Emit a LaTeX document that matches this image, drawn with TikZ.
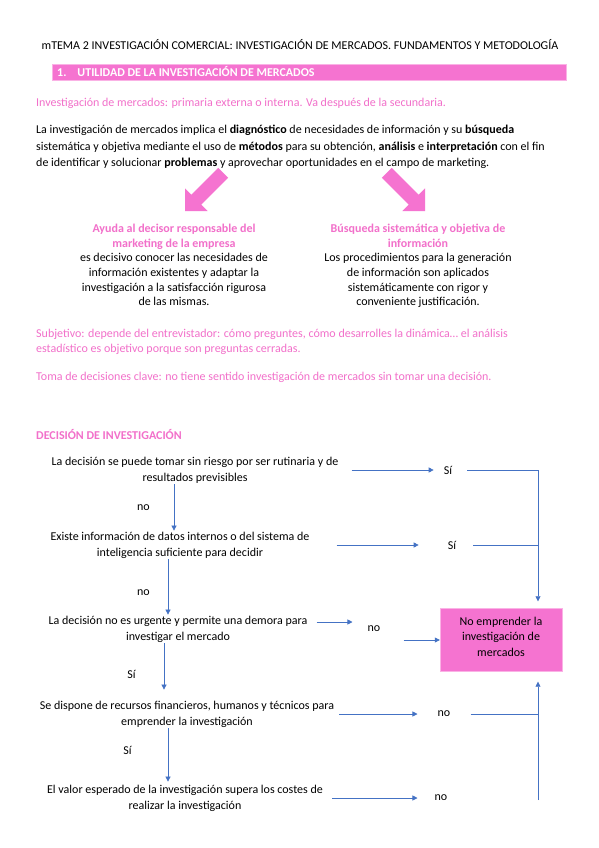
\documentclass[tikz,border=0pt]{standalone}
\usepackage{fontspec}
\setmainfont{Carlito}
\usetikzlibrary{arrows.meta,positioning}
\definecolor{rosa}{RGB}{245,115,208}
\definecolor{rosatxt}{RGB}{242,112,202}
\definecolor{azul}{RGB}{68,114,196}
\tikzset{
  flecha/.style={azul, line width=0.7pt, -{Triangle[length=5pt,width=5pt]}},
  linea/.style={azul, line width=0.7pt},
  preg/.style={align=center, font=\fontsize{12}{16}\selectfont, inner sep=1pt},
  resp/.style={text=black, font=\fontsize{12}{14}\selectfont, inner sep=0pt},
  txt/.style={anchor=west, inner sep=0pt, font=\fontsize{12}{14}\selectfont},
  col/.style={align=center, font=\fontsize{12}{14.6}\selectfont, inner sep=0pt},
}
\begin{document}
\begin{tikzpicture}[x=1pt,y=-1pt]
\useasboundingbox (0,0) rectangle (599,848);
\fill[white] (0,0) rectangle (599,848);

% cabecera
\node[txt, anchor=center] (titulo) at (300,45) {mTEMA 2 INVESTIGACIÓN COMERCIAL: INVESTIGACIÓN DE MERCADOS. FUNDAMENTOS Y METODOLOGÍA};
\filldraw[fill=rosa, draw=rosa!55] (52,64) rectangle (566,80);
\node[txt, text=white, font=\fontsize{12}{14}\selectfont\bfseries] (apartado) at (57,72) {1.\hspace{11pt}UTILIDAD DE LA INVESTIGACIÓN DE MERCADOS};

\node[txt, text=rosatxt] (primaria) at (36,103) {Investigación de mercados: primaria externa o interna. Va después de la secundaria.};
\node[txt] (par1) at (36,130) {La investigación de mercados implica el \textbf{diagnóstico} de necesidades de información y su \textbf{búsqueda}};
\node[txt] (par2) at (36,147) {sistemática y objetiva mediante el uso de \textbf{métodos} para su obtención, \textbf{análisis} e \textbf{interpretación} con el fin};
\node[txt] (par3) at (36,163) {de identificar y solucionar \textbf{problemas} y aprovechar oportunidades en el campo de marketing.};

% flechas gordas
\coordinate (puntaI) at (185,211);
\coordinate (puntaD) at (425,211);
\foreach \p/\ang in {puntaI/225, puntaD/-45}
\fill[rosa, shift={(\p)}, rotate=\ang] (0,0) -- (-16,16) -- (-16,7) -- (-54,7) -- (-54,-7) -- (-16,-7) -- (-16,-16) -- cycle;

\node[col, anchor=north] (ayuda) at (174,224) {\textcolor{rosatxt}{\textbf{Ayuda al decisor responsable del}}\\
\textcolor{rosatxt}{\textbf{marketing de la empresa}}\\
es decisivo conocer las necesidades de\\
información existentes y adaptar la\\
investigación a la satisfacción rigurosa\\
de las mismas.};
\node[col, anchor=north] (busqueda) at (418,224) {\textcolor{rosatxt}{\textbf{Búsqueda sistemática y objetiva de}}\\
\textcolor{rosatxt}{\textbf{información}}\\
Los procedimientos para la generación\\
de información son aplicados\\
sistemáticamente con rigor y\\
conveniente justificación.};

\node[txt, text=rosatxt] (subj1) at (36,334) {Subjetivo: depende del entrevistador: cómo preguntes, cómo desarrolles la dinámica… el análisis};
\node[txt, text=rosatxt] (subj2) at (36,349) {estadístico es objetivo porque son preguntas cerradas.};
\node[txt, text=rosatxt] (toma) at (36,377) {Toma de decisiones clave: no tiene sentido investigación de mercados sin tomar una decisión.};

\node[txt, text=rosatxt, font=\fontsize{12}{14}\selectfont\bfseries] (decision) at (36,434) {DECISIÓN DE INVESTIGACIÓN};

% arbol de decision
\node[preg] (q1) at (195,470) {La decisión se puede tomar sin riesgo por ser rutinaria y de\\ resultados previsibles};
\node[preg] (q2) at (180,545) {Existe información de datos internos o del sistema de\\ inteligencia suficiente para decidir};
\node[preg] (q3) at (178,629) {La decisión no es urgente y permite una demora para\\ investigar el mercado};
\node[preg] (q4) at (187,714) {Se dispone de recursos financieros, humanos y técnicos para\\ emprender la investigación};
\node[preg] (q5) at (185,798) {El valor esperado de la investigación supera los costes de\\ realizar la investigación};

\node[resp] (s1) at (448,470) {Sí};
\node[resp] (s2) at (452,545) {Sí};
\node[resp] (n3) at (374,629) {no};
\node[resp] (n4) at (444,714) {no};
\node[resp] (n5) at (441,798) {no};

\node[draw=rosa!55, fill=rosa, align=center, minimum width=122pt, minimum height=63pt, inner sep=2pt,
      font=\fontsize{12}{15.5}\selectfont] (caja) at (501,640) {No emprender la\\ investigación de\\ mercados\\[-9pt]};

\coordinate (j1) at (538,470);
\coordinate (j2) at (538,545);
\coordinate (j4) at (538,714);
\coordinate (j5) at (538,800);

% flechas hacia la derecha
\draw[flecha] ([xshift=12pt]q1.east) -- ([xshift=-10pt]s1.west);
\draw[flecha] ([xshift=26pt]q2.east) -- ([xshift=-29pt]s2.west);
\draw[flecha] ([xshift=8pt,yshift=7pt]q3.east) -- ([xshift=-15pt,yshift=7pt]n3.west);
\draw[flecha] ([xshift=23pt]n3.east |- caja.west) -- (caja.west);
\draw[flecha] ([xshift=4pt]q4.east) -- ([xshift=-20pt]n4.west);
\draw[flecha] ([xshift=8pt]q5.east) -- ([xshift=-17pt]n5.west);

\draw[linea] ([xshift=15pt]s1.east) -- (j1);
\draw[linea] ([xshift=17pt]s2.east) -- (j2);
\draw[linea] ([xshift=20pt]n4.east) -- (j4);
\draw[linea] (j1) -- (j2);
\draw[flecha, shorten >=7pt] (j2) -- (caja.north -| j2);
\draw[flecha, shorten >=10pt] (j5) -- (caja.south -| j5);

% flechas hacia abajo
\draw[flecha] (q1.south -| 174,0) -- (q2.north -| 174,0) node[midway, left=24pt, resp] {no};
\draw[flecha] (q2.south -| 168,0) -- (q3.north -| 168,0) node[pos=.6, left=18pt, resp] {no};
\draw[flecha, shorten >=10pt] (q3.south -| 164,0) -- (q4.north -| 164,0) node[pos=.55, left=28pt, resp] {Sí};
\draw[flecha, shorten >=2pt] (q4.south -| 168,0) -- (q5.north -| 168,0) node[pos=.4, left=36pt, resp] {Sí};
\end{tikzpicture}
\end{document}
